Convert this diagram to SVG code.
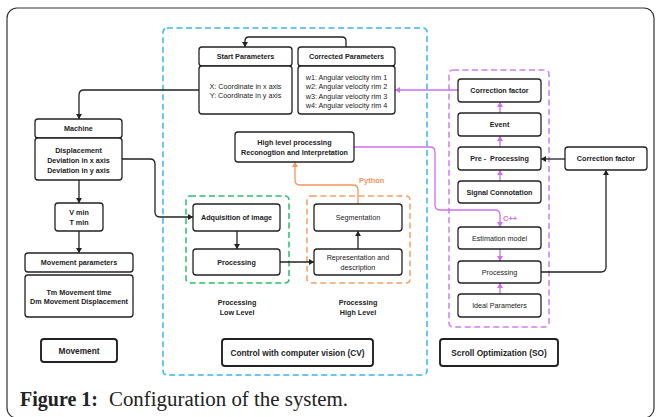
<svg xmlns="http://www.w3.org/2000/svg" width="657" height="417" viewBox="0 0 657 417">
<style>
.b{fill:#fff;stroke:#222;stroke-width:1.3}
.k{fill:#fff;stroke:#222;stroke-width:1.9}
.t{font-family:"Liberation Sans",Arial,sans-serif;font-size:7.2px;fill:#222;text-anchor:middle}
.tb{font-weight:bold}
.big{font-size:8.3px;font-weight:bold}
.c{fill:none;stroke:#222;stroke-width:1.3}
.p{fill:none;stroke:#CF6FEF;stroke-width:1.3}
.o{fill:none;stroke:#F5955A;stroke-width:1.3}
</style>
<defs>
<marker id="ak" markerUnits="userSpaceOnUse" markerWidth="8" markerHeight="8" refX="5" refY="3" orient="auto"><path d="M0,0 L5,3 L0,6 Z" fill="#222"/></marker>
<marker id="ap" markerUnits="userSpaceOnUse" markerWidth="8" markerHeight="8" refX="5" refY="3" orient="auto"><path d="M0,0 L5,3 L0,6 Z" fill="#CF6FEF"/></marker>
<marker id="ao" markerUnits="userSpaceOnUse" markerWidth="8" markerHeight="8" refX="5" refY="3" orient="auto"><path d="M0,0 L5,3 L0,6 Z" fill="#F5955A"/></marker>
</defs>
<rect x="0" y="0" width="657" height="417" fill="#fff"/>
<rect x="7" y="8" width="647" height="410" rx="10" fill="none" stroke="#333" stroke-width="1.2"/>

<g id="containers" fill="none" stroke-width="1.5" stroke-dasharray="6,3.5">
<rect id="cv-frame" x="163" y="28" width="264" height="347" rx="4" stroke="#3BB5EC"/>
<rect id="so-frame" x="449" y="70" width="100" height="257" rx="4" stroke="#D27CF0"/>
<rect id="low-frame" x="186" y="196" width="103" height="87" rx="4" stroke="#2DBE6C"/>
<rect id="high-frame" x="307" y="196" width="103" height="87" rx="4" stroke="#F5A067"/>
</g>

<g id="connectors">
<path class="c" d="M346,47 V41 Q346,37 342,37 H249 Q245,37 245,41 V47" marker-end="url(#ak)"/>
<path class="c" d="M199,90 H84 Q79,90 79,95 V119" marker-end="url(#ak)"/>
<path class="c" d="M122,159 H150 Q155,159 155,164 V212 Q155,217 160,217 H193" marker-end="url(#ak)"/>
<path class="c" d="M79,180 V203" marker-end="url(#ak)"/>
<path class="c" d="M79,231 V253" marker-end="url(#ak)"/>
<path class="c" d="M237,231 V249" marker-end="url(#ak)"/>
<path class="c" d="M280,262 H314" marker-end="url(#ak)"/>
<path class="c" d="M358,249 V231" marker-end="url(#ak)"/>
<path class="o" d="M358,204 V190 Q358,185 353,185 H300 Q295,185 295,180 V162" marker-end="url(#ao)"/>
<path class="p" d="M354,147 H430 Q435,147 435,152 V205 Q435,210 440,210 H495 Q500,210 500,215 V227" marker-end="url(#ap)"/>
<path class="p" d="M500,181 V170" marker-end="url(#ap)"/>
<path class="p" d="M500,147 V136" marker-end="url(#ap)"/>
<path class="p" d="M500,113 V102" marker-end="url(#ap)"/>
<path class="p" d="M500,249 V261" marker-end="url(#ap)"/>
<path class="p" d="M500,294 V283" marker-end="url(#ap)"/>
<path class="p" d="M458,90 H395" marker-end="url(#ap)"/>
<path class="c" d="M565,159 H541" marker-end="url(#ak)"/>
<path class="c" d="M541,272 H601 Q606,272 606,267 V170" marker-end="url(#ak)"/>
<text x="359" y="183" font-family="Liberation Sans,Arial,sans-serif" font-size="7.5" font-weight="bold" fill="#F5955A">Python</text>
<text x="503" y="221" font-family="Liberation Sans,Arial,sans-serif" font-size="7.5" font-weight="bold" fill="#CF6FEF">C++</text>
</g>

<g id="start-params">
<rect class="b" x="199" y="47" width="93" height="19" rx="3"/>
<rect class="b" x="199" y="66" width="93" height="48" rx="3"/>
<text class="t tb" x="245.5" y="59">Start Parameters</text>
<text class="t" x="245.5" y="88.5">X: Coordinate in x axis</text>
<text class="t" x="245.5" y="98">Y: Coordinate in y axis</text>
</g>
<g id="corrected-params">
<rect class="b" x="298" y="47" width="97" height="19" rx="3"/>
<rect class="b" x="298" y="66" width="97" height="48" rx="3"/>
<text class="t tb" x="346.5" y="59">Corrected Parameters</text>
<text class="t" x="346.5" y="79.5">w1: Angular velocity rim 1</text>
<text class="t" x="346.5" y="89">w2: Angular velocity rim 2</text>
<text class="t" x="346.5" y="98.5">w3: Angular velocity rim 3</text>
<text class="t" x="346.5" y="108">w4: Angular velocity rim 4</text>
</g>
<g id="machine">
<rect class="b" x="35" y="119" width="87" height="19" rx="3"/>
<rect class="b" x="35" y="138" width="87" height="42" rx="3"/>
<text class="t tb" x="78.5" y="131">Machine</text>
<text class="t tb" x="78.5" y="152.5">Displacement</text>
<text class="t tb" x="78.5" y="162.5">Deviation in x axis</text>
<text class="t tb" x="78.5" y="172.5">Deviation in y axis</text>
</g>
<g id="vmin">
<rect class="b" x="55" y="203" width="48" height="28" rx="3"/>
<text class="t tb" x="79" y="214.5">V min</text>
<text class="t tb" x="79" y="224.5">T min</text>
</g>
<g id="movement-params">
<rect class="b" x="25" y="253" width="108" height="19" rx="3"/>
<rect class="b" x="25" y="275" width="108" height="42" rx="3"/>
<text class="t tb" x="79" y="265">Movement parameters</text>
<text class="t tb" x="79" y="294.5">Tm Movement time</text>
<text class="t tb" x="79" y="304">Dm Movement Displacement</text>
</g>
<g id="movement">
<rect class="k" x="41" y="339" width="76" height="23" rx="3"/>
<text class="t big" x="79" y="353.5">Movement</text>
</g>
<g id="high-level">
<rect class="b" x="235" y="132" width="119" height="30" rx="3"/>
<text class="t tb" x="294.5" y="145">High level processing</text>
<text class="t tb" x="294.5" y="154.5">Reconogtion and Interpretation</text>
</g>
<g id="adquisition">
<rect class="b" x="193" y="204" width="87" height="27" rx="3"/>
<text class="t tb" x="236.5" y="220">Adquisition of image</text>
</g>
<g id="processing-low">
<rect class="b" x="193" y="249" width="87" height="26" rx="3"/>
<text class="t tb" x="236.5" y="264.5">Processing</text>
</g>
<g id="segmentation">
<rect class="b" x="314" y="204" width="88" height="27" rx="3"/>
<text class="t" x="358" y="220">Segmentation</text>
</g>
<g id="representation">
<rect class="b" x="314" y="249" width="88" height="26" rx="3"/>
<text class="t" x="358" y="260">Representation and</text>
<text class="t" x="358" y="269.5">description</text>
</g>
<g id="label-low">
<text class="t tb" x="237" y="304.5">Processing</text>
<text class="t tb" x="237" y="315">Low Level</text>
</g>
<g id="label-high">
<text class="t tb" x="358" y="304.5">Processing</text>
<text class="t tb" x="358" y="315">High Level</text>
</g>
<g id="cv">
<rect class="k" x="222" y="339" width="151" height="27" rx="3"/>
<text class="t big" x="297.5" y="355.5">Control with computer vision (CV)</text>
</g>
<g id="correction-factor">
<rect class="b" x="458" y="79" width="83" height="23" rx="3"/>
<text class="t tb" x="499.5" y="93">Correction factor</text>
</g>
<g id="event">
<rect class="b" x="458" y="113" width="83" height="23" rx="3"/>
<text class="t tb" x="499.5" y="127">Event</text>
</g>
<g id="pre-processing">
<rect class="b" x="458" y="147" width="83" height="23" rx="3"/>
<text class="t tb" x="499.5" y="161" xml:space="preserve">Pre -  Processing</text>
</g>
<g id="signal">
<rect class="b" x="458" y="181" width="83" height="22" rx="3"/>
<text class="t tb" x="499.5" y="194.5">Signal Connotation</text>
</g>
<g id="estimation">
<rect class="b" x="458" y="227" width="83" height="22" rx="3"/>
<text class="t" x="499.5" y="240.5">Estimation model</text>
</g>
<g id="processing-so">
<rect class="b" x="458" y="261" width="83" height="22" rx="3"/>
<text class="t" x="499.5" y="274.5">Processing</text>
</g>
<g id="ideal">
<rect class="b" x="458" y="294" width="83" height="23" rx="3"/>
<text class="t" x="499.5" y="308">Ideal Parameters</text>
</g>
<g id="correction-factor-right">
<rect class="b" x="565" y="147" width="82" height="23" rx="3"/>
<text class="t tb" x="606" y="161">Correction factor</text>
</g>
<g id="so">
<rect class="k" x="440" y="339" width="118" height="27" rx="3"/>
<text class="t big" x="499" y="355.5">Scroll Optimization (SO)</text>
</g>
<g id="caption">
<text x="20" y="406" font-family="Liberation Serif,Times New Roman,serif" font-size="20" fill="#222"><tspan font-weight="bold">Figure 1:</tspan><tspan x="109" textLength="239" lengthAdjust="spacingAndGlyphs">Configuration of the system.</tspan></text>
</g>
</svg>
